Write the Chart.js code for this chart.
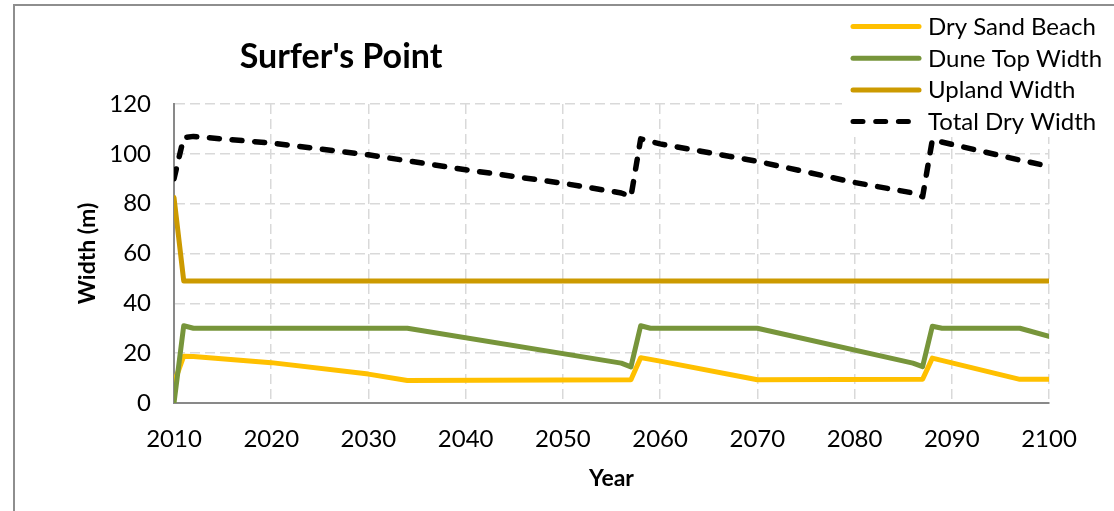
<!DOCTYPE html>
<html>
<head>
<meta charset="utf-8">
<title>Surfer's Point</title>
<script src="https://cdn.jsdelivr.net/npm/chart.js@4.4.1/dist/chart.umd.min.js"></script>
<style>
  html, body { margin: 0; padding: 0; background: #ffffff; }
  #wrap { width: 1114px; height: 511px; position: relative; }
</style>
</head>
<body>
<div id="wrap"><canvas id="c" width="1114" height="511"></canvas></div>
<script>
// ---- labels ----
const chartTitle = "Surfer's Point";
const xAxisTitle = 'Year';
const yAxisTitle = 'Width (m)';
const yearTicks = [2010, 2020, 2030, 2040, 2050, 2060, 2070, 2080, 2090, 2100];
const widthTicks = [0, 20, 40, 60, 80, 100, 120];

// ---- series (year, width in m) at the turning points of each line ----
const drySandYears  = [2010, 2011, 2012, 2020, 2030, 2034, 2057, 2058, 2060, 2070, 2087, 2088, 2097, 2100];
const drySandWidth  = [8,    18.8, 18.7, 16.2, 11.6, 9.0,  9.3,  18.2, 16.8, 9.3,  9.5,  18.0, 9.5,  9.5];

const duneTopYears  = [2010, 2011, 2012, 2034, 2056, 2057, 2058, 2059, 2070, 2086, 2087, 2088, 2089, 2097, 2100];
const duneTopWidth  = [0,    31,   30,   30,   16,   14.5, 31,   30,   30,   16,   14.6, 30.8, 30,   30,   26.8];

const uplandYears   = [2010, 2011, 2100];
const uplandWidth   = [82.5, 49,   49];

const totalYears    = [2010, 2011, 2012, 2020,  2030, 2040, 2050, 2056, 2057, 2058, 2060, 2070, 2080, 2086, 2087, 2088,  2090,  2097, 2100];
const totalWidth    = [90,   106.5, 107, 104.3, 99.6, 93.6, 88.2, 84.3, 82.8, 106,  104,  97,   88.5, 84.3, 82.8, 105.6, 103.8, 97.5, 95];

const pts = (xs, ys) => xs.map((x, i) => ({ x: x, y: ys[i] }));

Chart.defaults.font.family = 'Lato, "Open Sans", sans-serif';
Chart.defaults.color = '#000000';

const lineStyle = {
  pointRadius: 0,
  pointHoverRadius: 0,
  borderWidth: 5,
  tension: 0,
  fill: false,
  borderCapStyle: 'round',
  borderJoinStyle: 'round'
};

const datasets = [
  Object.assign({ label: 'Dry Sand Beach',  data: pts(drySandYears, drySandWidth), borderColor: '#FFC000', order: 4 }, lineStyle),
  Object.assign({ label: 'Dune Top Width',  data: pts(duneTopYears, duneTopWidth), borderColor: '#77953B', order: 3 }, lineStyle),
  Object.assign({ label: 'Upland Width',    data: pts(uplandYears, uplandWidth),   borderColor: '#CC9A00', order: 2 }, lineStyle),
  Object.assign({ label: 'Total Dry Width', data: pts(totalYears, totalWidth),     borderColor: '#000000', order: 1,
                  borderDash: [10, 12.7] }, lineStyle, { borderWidth: 5.5 })
];

// Legend block in the upper right, boxed in white over the grid
const sideLegend = {
  id: 'sideLegend',
  beforeDatasetsDraw(chart) {
    const ctx = chart.ctx;
    ctx.save();
    ctx.fillStyle = '#ffffff';
    ctx.fillRect(842, 6, 272, 131);
    ctx.font = '24px Lato, "Open Sans", sans-serif';
    ctx.textBaseline = 'alphabetic';
    ctx.textAlign = 'left';
    chart.data.datasets.forEach((ds, i) => {
      const y = 26.5 + i * 31.7;
      ctx.strokeStyle = ds.borderColor;
      ctx.lineWidth = 5;
      ctx.lineCap = 'round';
      ctx.setLineDash(ds.borderDash || []);
      ctx.beginPath();
      ctx.moveTo(853, y);
      ctx.lineTo(919, y);
      ctx.stroke();
      ctx.setLineDash([]);
      ctx.fillStyle = '#000000';
      ctx.fillText(ds.label, 928, y + 8.5);
    });
    ctx.restore();
  }
};

// Heading and outer frame
const frameAndTitle = {
  id: 'frameAndTitle',
  beforeDraw(chart) {
    const ctx = chart.ctx;
    ctx.save();
    ctx.fillStyle = '#ffffff';
    ctx.fillRect(0, 0, chart.width, chart.height);
    ctx.restore();
  },
  afterDraw(chart) {
    const ctx = chart.ctx;
    ctx.save();
    ctx.strokeStyle = '#8e8e8e';
    ctx.lineWidth = 2;
    ctx.beginPath();
    ctx.moveTo(14, chart.height + 2);
    ctx.lineTo(14, 5);
    ctx.lineTo(chart.width + 2, 5);
    ctx.stroke();
    ctx.font = 'bold 34px Lato, "Open Sans", sans-serif';
    ctx.fillStyle = '#000000';
    ctx.textAlign = 'center';
    ctx.textBaseline = 'middle';
    ctx.fillText(chartTitle, 341, 57);
    ctx.restore();
  }
};

const gridColor = (edgeValue) => (c) => (c.tick && c.tick.value === edgeValue) ? 'rgba(0,0,0,0)' : '#D9D9D9';

new Chart(document.getElementById('c'), {
  type: 'line',
  data: { datasets: datasets },
  plugins: [frameAndTitle, sideLegend],
  options: {
    responsive: false,
    devicePixelRatio: 1,
    animation: false,
    layout: { padding: { left: 74, right: 65, top: 104, bottom: 19 } },
    plugins: {
      legend: { display: false },
      title: { display: false },
      tooltip: { enabled: false }
    },
    scales: {
      x: {
        type: 'linear',
        min: yearTicks[0],
        max: yearTicks[yearTicks.length - 1],
        afterBuildTicks: (s) => { s.ticks = yearTicks.map(v => ({ value: v })); },
        afterFit: (s) => { s.height = 89; },
        ticks: {
          font: { size: 24 },
          color: '#000000',
          padding: 22,
          maxRotation: 0,
          autoSkip: false,
          callback: (v) => String(v)
        },
        grid: { color: gridColor(yearTicks[0]), lineWidth: 1.5, drawTicks: false },
        border: { display: true, color: '#898989', width: 2, dash: [10, 5] },
        title: { display: true, text: xAxisTitle, font: { size: 23, weight: 'bold' }, color: '#000000', padding: 0 }
      },
      y: {
        min: widthTicks[0],
        max: widthTicks[widthTicks.length - 1],
        afterBuildTicks: (s) => { s.ticks = widthTicks.map(v => ({ value: v })); },
        afterFit: (s) => { s.width = 100; },
        ticks: {
          font: { size: 24 },
          color: '#000000',
          padding: 23,
          callback: (v) => String(v)
        },
        grid: { color: gridColor(widthTicks[0]), lineWidth: 1.5, drawTicks: false },
        border: { display: true, color: '#898989', width: 2, dash: [10, 5] },
        title: { display: true, text: yAxisTitle, font: { size: 23, weight: 'bold' }, color: '#000000', padding: 0 }
      }
    }
  }
});
</script>
</body>
</html>
